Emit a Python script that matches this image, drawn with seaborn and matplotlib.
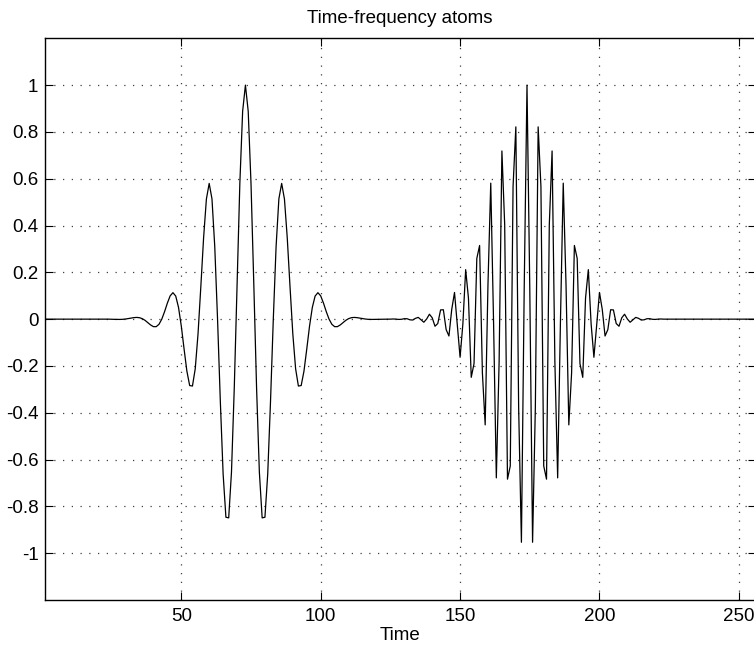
import matplotlib
matplotlib.use("Agg")
import matplotlib.pyplot as plt
import seaborn as sns
import pandas as pd

# ---- data ----
time = list(range(1, 257))

signal = [
    # t = 1 .. 24
    0, 0, 0, 0, 0, 0, 0, 0, 0, 0, 0, 0,
    0, 0, 0, 0, 0, 0, 0, 0, 0, 0, 0, 0,
    # t = 25 .. 73
    -0.0006, -0.0009, -0.0012, -0.0012, -0.0007, 0.0005, 0.0023, 0.0045,
    0.0065, 0.0074, 0.0062, 0.0021, -0.0052, -0.0149, -0.0249, -0.0320,
    -0.0321, -0.0220, 0.0, 0.0321, 0.0685, 0.0994, 0.1131, 0.0987,
    0.0503, -0.0296, -0.1280, -0.2221, -0.2837, -0.2858, -0.2118, -0.0629,
    0.1380, 0.3481, 0.5130, 0.5800, 0.5140, 0.3101, 0.0, -0.3517,
    -0.6613, -0.8464, -0.8491, -0.6536, -0.2938, 0.1521, 0.5804, 0.8882,
    1.0,
    # t = 74 .. 121
    0.8882, 0.5804, 0.1521, -0.2938, -0.6536, -0.8491, -0.8464, -0.6613,
    -0.3517, 0.0, 0.3101, 0.5140, 0.5800, 0.5130, 0.3481, 0.1380,
    -0.0629, -0.2118, -0.2858, -0.2837, -0.2221, -0.1280, -0.0296, 0.0503,
    0.0987, 0.1131, 0.0994, 0.0685, 0.0321, 0.0, -0.0220, -0.0321,
    -0.0320, -0.0249, -0.0149, -0.0052, 0.0021, 0.0062, 0.0074, 0.0065,
    0.0045, 0.0023, 0.0005, -0.0007, -0.0012, -0.0012, -0.0009, -0.0006,
    # t = 122 .. 125
    0, 0, 0, 0,
    # t = 126 .. 174
    0.0007, 0.0001, -0.0012, -0.0006, 0.0020, 0.0017, -0.0028, -0.0038,
    0.0035, 0.0075, -0.0031, -0.0132, 0.0006, 0.0210, 0.0059, -0.0303,
    -0.0187, 0.0394, 0.0402, -0.0447, -0.0720, 0.0411, 0.1140, -0.0218,
    -0.1629, -0.0201, 0.2115, 0.0903, -0.2486, -0.1901, 0.2596, 0.3148,
    -0.2297, -0.4518, 0.1472, 0.5811, -0.0080, -0.6782, -0.1815, 0.7186,
    0.4028, -0.6837, -0.6273, 0.5665, 0.8215, -0.3748, -0.9533, 0.1312,
    1.0,
    # t = 175 .. 222
    0.1312, -0.9533, -0.3748, 0.8215, 0.5665, -0.6273, -0.6837, 0.4028,
    0.7186, -0.1815, -0.6782, -0.0080, 0.5811, 0.1472, -0.4518, -0.2297,
    0.3148, 0.2596, -0.1901, -0.2486, 0.0903, 0.2115, -0.0201, -0.1629,
    -0.0218, 0.1140, 0.0411, -0.0720, -0.0447, 0.0402, 0.0394, -0.0187,
    -0.0303, 0.0059, 0.0210, 0.0006, -0.0132, -0.0031, 0.0075, 0.0035,
    -0.0038, -0.0028, 0.0017, 0.0020, -0.0006, -0.0012, 0.0001, 0.0007,
    # t = 223 .. 256
    0, 0, 0, 0, 0, 0, 0, 0, 0, 0, 0, 0, 0, 0, 0, 0, 0,
    0, 0, 0, 0, 0, 0, 0, 0, 0, 0, 0, 0, 0, 0, 0, 0, 0,
]

x_ticks = [50, 100, 150, 200, 250]
x_tick_labels = ["50", "100", "150", "200", "250"]
y_ticks = [-1, -0.8, -0.6, -0.4, -0.2, 0, 0.2, 0.4, 0.6, 0.8, 1]
y_tick_labels = ["-1", "-0.8", "-0.6", "-0.4", "-0.2", "0",
                 "0.2", "0.4", "0.6", "0.8", "1"]

title_text = "Time-frequency atoms"
x_label_text = "Time"

# ---- styling ----
sns.set_style("ticks")
plt.rcParams["font.family"] = ["Liberation Sans", "DejaVu Sans"]

fig = plt.figure(figsize=(7.54, 6.46), dpi=100)
ax = fig.add_axes([0.05928, 0.07121, 0.94284, 0.86951])

df = pd.DataFrame({"Time": time, "Signal": signal})
sns.lineplot(data=df, x="Time", y="Signal", ax=ax, color="black",
             linewidth=0.9, estimator=None, sort=False)

ax.set_xlim(1, 256)
ax.set_ylim(-1.2, 1.2)
ax.set_xticks(x_ticks)
ax.set_xticklabels(x_tick_labels)
ax.set_yticks(y_ticks)
ax.set_yticklabels(y_tick_labels)

ax.grid(True, which="major", color="0.25", linestyle=(0, (1, 6)), linewidth=0.9)

for side in ["top", "right", "bottom", "left"]:
    ax.spines[side].set_visible(True)
    ax.spines[side].set_color("black")
    ax.spines[side].set_linewidth(1.0)

ax.tick_params(axis="both", which="major", direction="in", length=6,
               width=0.8, color="black", labelsize=13.5, labelcolor="black",
               top=True, right=True)
ax.tick_params(axis="x", pad=6)
ax.tick_params(axis="y", pad=4.5)

ax.set_title(title_text, fontsize=13.5, pad=11, color="black")
ax.set_xlabel(x_label_text, fontsize=13.5, labelpad=1.5, color="black")
ax.set_ylabel("")

fig.savefig("out.png", dpi=100, facecolor="white")
